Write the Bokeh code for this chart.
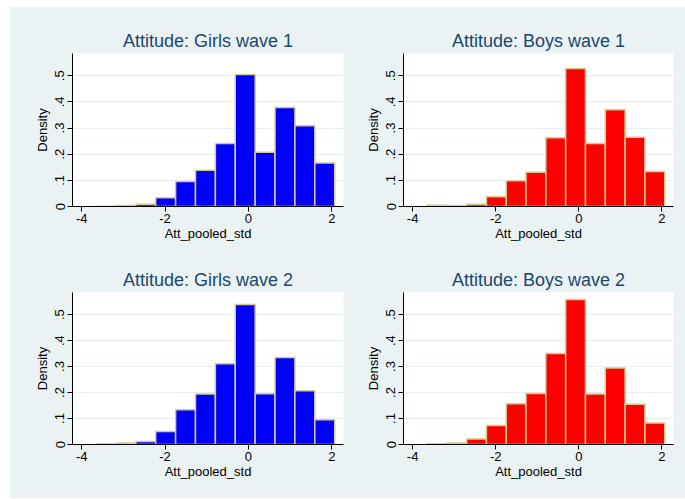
from bokeh.plotting import figure
from bokeh.layouts import gridplot, column, row
from bokeh.models import FixedTicker, Spacer
from bokeh.embed import file_html
from bokeh.resources import INLINE

# ---- data ----
bin_edges = [-3.655, -3.178, -2.701, -2.224, -1.747, -1.270, -0.793,
             -0.316, 0.161, 0.638, 1.115, 1.592, 2.069]

girls_w1 = [0.001, 0.004, 0.009, 0.033, 0.096, 0.139, 0.241, 0.505, 0.207, 0.379, 0.309, 0.166]
boys_w1 = [0.005, 0.003, 0.009, 0.037, 0.098, 0.131, 0.263, 0.528, 0.241, 0.370, 0.265, 0.134]
girls_w2 = [0.002, 0.006, 0.012, 0.050, 0.134, 0.194, 0.311, 0.539, 0.195, 0.335, 0.207, 0.095]
boys_w2 = [0.003, 0.006, 0.021, 0.073, 0.157, 0.196, 0.350, 0.558, 0.194, 0.294, 0.155, 0.083]

titles = ["Attitude: Girls wave 1", "Attitude: Boys wave 1",
          "Attitude: Girls wave 2", "Attitude: Boys wave 2"]
series = [girls_w1, boys_w1, girls_w2, boys_w2]
fill_colors = ["#0000FF", "#FF0000", "#0000FF", "#FF0000"]

xticks = [-4, -2, 0, 2]
xtick_labels = ["-4", "-2", "0", "2"]
yticks = [0, 0.1, 0.2, 0.3, 0.4, 0.5]
ytick_labels = ["0", ".1", ".2", ".3", ".4", ".5"]

x_label = "Att_pooled_std"
y_label = "Density"

# ---- style ----
BG = "#EAF2F3"
TITLE_COLOR = "#1A476F"
OUTLINE = "#D6C98E"
FONT = "Liberation Sans"

# (width, height, left, right, top, bottom) per panel
geom = [
    (336, 239, 62, 3, 46, 40),
    (339, 239, 57, 12, 46, 40),
    (336, 252, 62, 3, 46, 54),
    (339, 252, 57, 12, 46, 54),
]


def make_panel(title, values, color, g):
    w, h, ml, mr, mt, mb = g
    p = figure(width=w, height=h, output_backend="svg", toolbar_location=None,
               x_range=(-4.22, 2.28), y_range=(0, 0.585),
               min_border_left=ml, min_border_right=mr,
               min_border_top=mt, min_border_bottom=mb,
               background_fill_color="white", border_fill_color=BG,
               outline_line_color=None)
    p.title.text = title
    p.title.align = "center"
    p.title.text_font = FONT
    p.title.text_font_size = "18px"
    p.title.text_font_style = "normal"
    p.title.text_color = TITLE_COLOR
    p.title.standoff = 6

    p.quad(left=bin_edges[:-1], right=bin_edges[1:], bottom=0, top=values,
           fill_color=color, line_color=OUTLINE, line_width=1.5)

    p.xaxis.ticker = FixedTicker(ticks=xticks)
    p.xaxis.major_label_overrides = dict(zip(xticks, xtick_labels))
    p.yaxis.ticker = FixedTicker(ticks=yticks)
    p.yaxis.major_label_overrides = dict(zip(yticks, ytick_labels))
    p.yaxis.major_label_orientation = "vertical"

    p.xaxis.axis_label = x_label
    p.yaxis.axis_label = y_label
    for ax in (p.xaxis, p.yaxis):
        ax.axis_line_color = "black"
        ax.axis_line_width = 1
        ax.major_tick_line_color = "black"
        ax.major_tick_out = 5
        ax.major_tick_in = 0
        ax.minor_tick_line_color = None
        ax.major_label_text_font = FONT
        ax.major_label_text_font_size = "13px"
        ax.major_label_text_color = "black"
        ax.axis_label_text_font = FONT
        ax.axis_label_text_font_size = "13px"
        ax.axis_label_text_font_style = "normal"
        ax.axis_label_text_color = "black"
    p.xaxis.major_label_standoff = 2
    p.xaxis.axis_label_standoff = 0
    p.yaxis.major_label_standoff = 3
    p.yaxis.axis_label_standoff = 3

    p.xgrid.grid_line_color = None
    p.ygrid.grid_line_color = "#E6EEF0"
    p.ygrid.grid_line_width = 1
    return p


panels = [make_panel(t, v, c, g) for t, v, c, g in zip(titles, series, fill_colors, geom)]

grid = gridplot([[panels[0], panels[1]], [panels[2], panels[3]]],
                toolbar_location=None)
grid.styles = {"background-color": BG}

layout = column(Spacer(height=7, width=685),
                row(Spacer(width=10, height=492), grid))

open("out.html", "w").write(file_html(layout, INLINE))
